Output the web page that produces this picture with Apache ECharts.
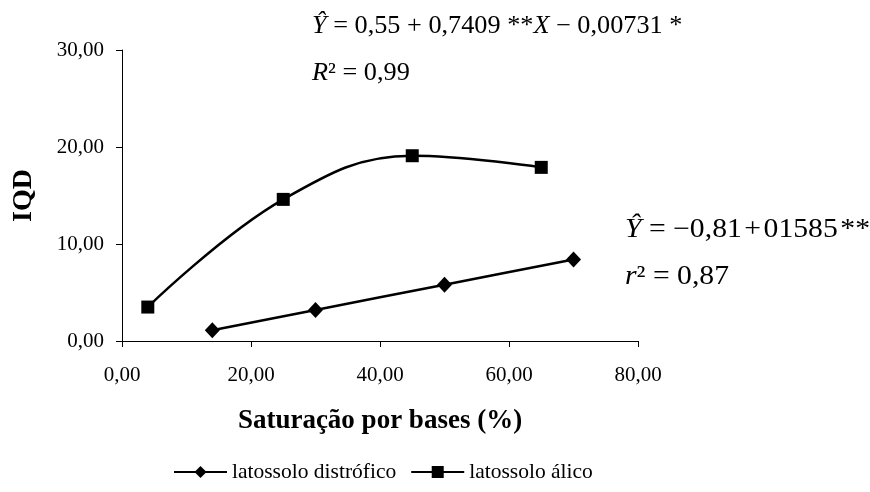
<!DOCTYPE html>
<html>
<head>
<meta charset="utf-8">
<script src="https://cdn.jsdelivr.net/npm/echarts@6/dist/echarts.min.js"></script>
<style>
  html, body { margin: 0; padding: 0; background: #fff; }
  #chart { width: 870px; height: 492px; }
</style>
</head>
<body>
<div id="chart"></div>
<script>
// Saturação por bases (%) vs IQD for two latossolos
const xTicks = [0, 20, 40, 60, 80];
const yTicks = [0, 10, 20, 30];

const distroficoX = [14, 30, 50, 70];
const distroficoY = [1.1, 3.2, 5.8, 8.4];

const alicoX = [4, 25, 45, 65];
const alicoY = [3.5, 14.6, 19.1, 17.9];

const seriesNames = ['latossolo distrófico', 'latossolo álico'];

const FONT = '"Liberation Serif", "Times New Roman", serif';
const fmt = v => v.toFixed(2).replace('.', ',');
const pairs = (xs, ys) => xs.map((x, i) => [x, ys[i]]);
const HAIR = '\u200A';

function eqStyle(size) {
  return {
    i: { fontFamily: FONT, fontSize: size, fontStyle: 'italic', fill: '#000' },
    n: { fontFamily: FONT, fontSize: size, fill: '#000' }
  };
}

const chart = echarts.init(document.getElementById('chart'));
chart.setOption({
  backgroundColor: '#fff',
  animation: false,
  textStyle: { fontFamily: FONT, color: '#000' },
  grid: { left: 122, right: 232, top: 50, bottom: 151, containLabel: false },
  xAxis: {
    type: 'value',
    min: xTicks[0], max: xTicks[xTicks.length - 1], interval: 20,
    name: 'Saturação por bases (%)',
    nameLocation: 'middle', nameGap: 67,
    nameTextStyle: { fontFamily: FONT, fontSize: 27, fontWeight: 'bold', color: '#000' },
    axisLine: { show: true, lineStyle: { color: '#000', width: 1 } },
    axisTick: { show: true, length: 6, lineStyle: { color: '#000' } },
    axisLabel: { fontFamily: FONT, fontSize: 21, color: '#000', margin: 24, formatter: fmt },
    splitLine: { show: false }
  },
  yAxis: {
    type: 'value',
    min: yTicks[0], max: yTicks[yTicks.length - 1], interval: 10,
    name: 'IQD',
    nameLocation: 'middle', nameGap: 84, nameRotate: 90,
    nameTextStyle: { fontFamily: FONT, fontSize: 28, fontWeight: 'bold', color: '#000' },
    axisLine: { show: true, lineStyle: { color: '#000', width: 1 } },
    axisTick: { show: true, length: 6, lineStyle: { color: '#000' } },
    axisLabel: { fontFamily: FONT, fontSize: 21, color: '#000', margin: 18, formatter: fmt },
    splitLine: { show: false }
  },
  legend: {
    top: 456,
    left: 168,
    itemWidth: 53, itemHeight: 15, itemGap: 14,
    textStyle: { fontFamily: FONT, fontSize: 21.5, color: '#000' },
    data: seriesNames
  },
  series: [
    {
      name: seriesNames[0],
      type: 'line',
      data: pairs(distroficoX, distroficoY),
      smooth: 0.3,
      symbol: 'diamond', symbolSize: [15, 16],
      lineStyle: { color: '#000', width: 2.5 },
      itemStyle: { color: '#000' }
    },
    {
      name: seriesNames[1],
      type: 'line',
      data: pairs(alicoX, alicoY),
      smooth: 0.4,
      symbol: 'rect', symbolSize: 13,
      lineStyle: { color: '#000', width: 2.5 },
      itemStyle: { color: '#000' }
    }
  ],
  graphic: [
    {
      type: 'text', x: 312, y: 14, scaleX: 1.05,
      style: { text: '{i|Ŷ}{n| = 0,55 + 0,7409 **}{i|X}{n| − 0,00731 *}', rich: eqStyle(25) }
    },
    {
      type: 'text', x: 312, y: 61, scaleX: 1.05,
      style: { text: '{i|R}{n|² = 0,99}', rich: eqStyle(25) }
    },
    {
      type: 'text', x: 625, y: 216, scaleX: 1.1,
      style: { text: '{i|Ŷ}{n| = −0,81' + HAIR + '+' + HAIR + '01585' + HAIR + '**.}', rich: eqStyle(27) }
    },
    {
      type: 'text', x: 625, y: 263, scaleX: 1.1,
      style: { text: '{i|r}{n|² = 0,87}', rich: eqStyle(27) }
    }
  ]
});
</script>
</body>
</html>
